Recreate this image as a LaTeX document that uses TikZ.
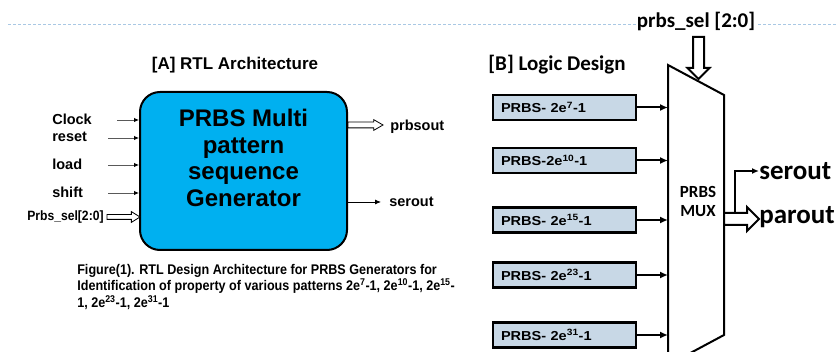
\documentclass[tikz,border=0pt]{standalone}
\usepackage{fontspec}
\setmainfont{Liberation Sans}
\newfontfamily\calfont{Carlito}
\newfontfamily\narrowfont[FakeStretch=0.9]{Liberation Sans}
\newfontfamily\widefont[FakeStretch=1.12]{Liberation Sans}
\usetikzlibrary{arrows.meta}
\usetikzlibrary{positioning}
\usetikzlibrary{shapes.arrows}
\definecolor{genblue}{HTML}{00B0F0}
\definecolor{boxgray}{HTML}{C8D8E6}
\definecolor{dashblue}{HTML}{A9C8E4}

\begin{document}
\begin{tikzpicture}[x=1pt, y=-1pt, >={Latex[length=6pt,width=5pt]}, semithick]
\tikzstyle{sig} = [font=\bfseries\fontsize{14.5}{16}\selectfont, inner sep=0pt, anchor=west]
\tikzstyle{inarrow} = [draw=black!65, line width=0.9pt, -{Latex[length=5pt,width=4.5pt,color=black]}]
\tikzstyle{hollow} = [single arrow, draw=black, fill=white, line width=0.8pt, inner xsep=0pt, outer sep=0pt, anchor=tail]
\tikzstyle{bighollow} = [hollow, line width=2pt, single arrow tip angle=90]
\tikzstyle{prbsbox} = [draw=black, line width=2.2pt, fill=boxgray, minimum height=25pt, text width=127pt, inner xsep=8pt, align=left, font=\widefont\bfseries\fontsize{13}{14}\selectfont]
\tikzstyle{muxarrow} = [line width=2pt, -{Latex[length=8pt,width=7pt]}]

\clip (0,0) rectangle (838,352);

\coordinate (dl) at (8,24);
\coordinate (dr) at (838,24);
\draw[dashblue, line width=0.8pt, dash pattern=on 3pt off 2pt] (dl) -- (dr);

% [A] RTL architecture
\node[font=\bfseries\fontsize{17}{19}\selectfont] (titleA) at (235,65) {[A] RTL Architecture};

\node[draw=black, line width=2pt, fill=genblue, rounded corners=20pt, minimum width=207pt, minimum height=158pt] (gen) at (243.5,171) {};
\node[font=\bfseries\fontsize{24}{26.5}\selectfont, align=center] (gentxt) at (243.5,158) {PRBS Multi\\pattern\\sequence\\Generator};

\node[sig] (clk) at (52,119) {Clock};
\node[sig] (rst) at (52,137) {reset};
\node[sig] (ld) at (52,164) {load};
\node[sig] (sh) at (52,192) {shift};
\node[sig, font=\narrowfont\bfseries\fontsize{13.5}{15}\selectfont] (sel) at (27,217) {Prbs\_sel[2:0]};

\coordinate (clkin) at (117,120);
\coordinate (rstin) at (108,138);
\coordinate (ldin) at (108,165);
\coordinate (shin) at (108,193);
\draw[inarrow] (clkin) -- (clkin -| gen.west);
\draw[inarrow] (rstin) -- (rstin -| gen.west);
\draw[inarrow] (ldin) -- (ldin -| gen.west);
\draw[inarrow] (shin) -- (shin -| gen.west);

\node[hollow, minimum height=33pt, inner ysep=2pt, single arrow head extend=3pt, single arrow tip angle=64] (selarr) at (107,217) {};
\node[hollow, minimum height=35pt, inner ysep=2.5pt, single arrow head extend=2.5pt, single arrow tip angle=60] (prbsarr) at (gen.east |- 0,125) {};
\node[sig] (prbsout) at (390,127) {prbsout};

\coordinate (serin) at (gen.east |- 0,202);
\draw[line width=0.8pt, -{Latex[length=6pt,width=5pt]}] (serin) -- ++(33,0) coordinate (serend);
\node[sig] (serA) at (389,202) {serout};

\node[font=\narrowfont\bfseries\fontsize{14}{16.5}\selectfont, align=left, anchor=north west, inner sep=0pt] (caption) at (77,264)
  {Figure(1). RTL Design Architecture for PRBS Generators for\\
   Identification of property of various patterns 2e\textsuperscript{7}-1, 2e\textsuperscript{10}-1, 2e\textsuperscript{15}-\\
   1, 2e\textsuperscript{23}-1, 2e\textsuperscript{31}-1};

% [B] logic design
\node[font=\calfont\bfseries\fontsize{21}{23}\selectfont] (titleB) at (557,65) {[B] Logic Design};
\node[font=\calfont\bfseries\fontsize{21}{23}\selectfont, fill=white, inner sep=1pt] (selname) at (696,21) {prbs\_sel [2:0]};

\coordinate (mtl) at (668,65);
\coordinate (mtr) at (724,95);
\coordinate (mbr) at (724,335);
\coordinate (mbl) at (668,365);
\draw[line width=2pt, fill=white] (mtl) -- (mtr) -- (mbr) -- (mbl) -- cycle;
\node[font=\calfont\bfseries\fontsize{17}{19}\selectfont, align=center] (mux) at (698,201) {PRBS\\MUX};

\node[bighollow, rotate=-90, minimum height=42pt, inner ysep=4.5pt, single arrow head extend=5.5pt] (muxsel) at (698.5,37) {};

\node[prbsbox] (p7) at (564.5,107.5) {PRBS- 2e\textsuperscript{7}-1};
\node[prbsbox] (p10) at (564.5,160.5) {PRBS-2e\textsuperscript{10}-1};
\node[prbsbox] (p15) at (564.5,220) {PRBS- 2e\textsuperscript{15}-1};
\node[prbsbox] (p23) at (564.5,275) {PRBS- 2e\textsuperscript{23}-1};
\node[prbsbox] (p31) at (564.5,335) {PRBS- 2e\textsuperscript{31}-1};

\draw[muxarrow] (p7.east) -- (p7.east -| mtl);
\draw[muxarrow] (p10.east) -- (p10.east -| mtl);
\draw[muxarrow] (p15.east) -- (p15.east -| mtl);
\draw[muxarrow] (p23.east) -- (p23.east -| mtl);
\draw[muxarrow] (p31.east) -- (p31.east -| mtl);

\coordinate (parin) at (mtr |- 0,219);
\node[bighollow, minimum height=35pt, inner ysep=5pt, single arrow head extend=6pt] (parr) at (parin) {};
\node[font=\calfont\bfseries\fontsize{27}{29}\selectfont, inner sep=0pt, anchor=west] (parout) at (759,217) {parout};

\coordinate (split) at (735,214);
\node[font=\calfont\bfseries\fontsize{27}{29}\selectfont, inner sep=0pt, anchor=west] (serB) at (759,171) {serout};
\draw[line width=2pt, -{Latex[length=7pt,width=6pt]}] (split) |- (serB.west);

\end{tikzpicture}
\end{document}
